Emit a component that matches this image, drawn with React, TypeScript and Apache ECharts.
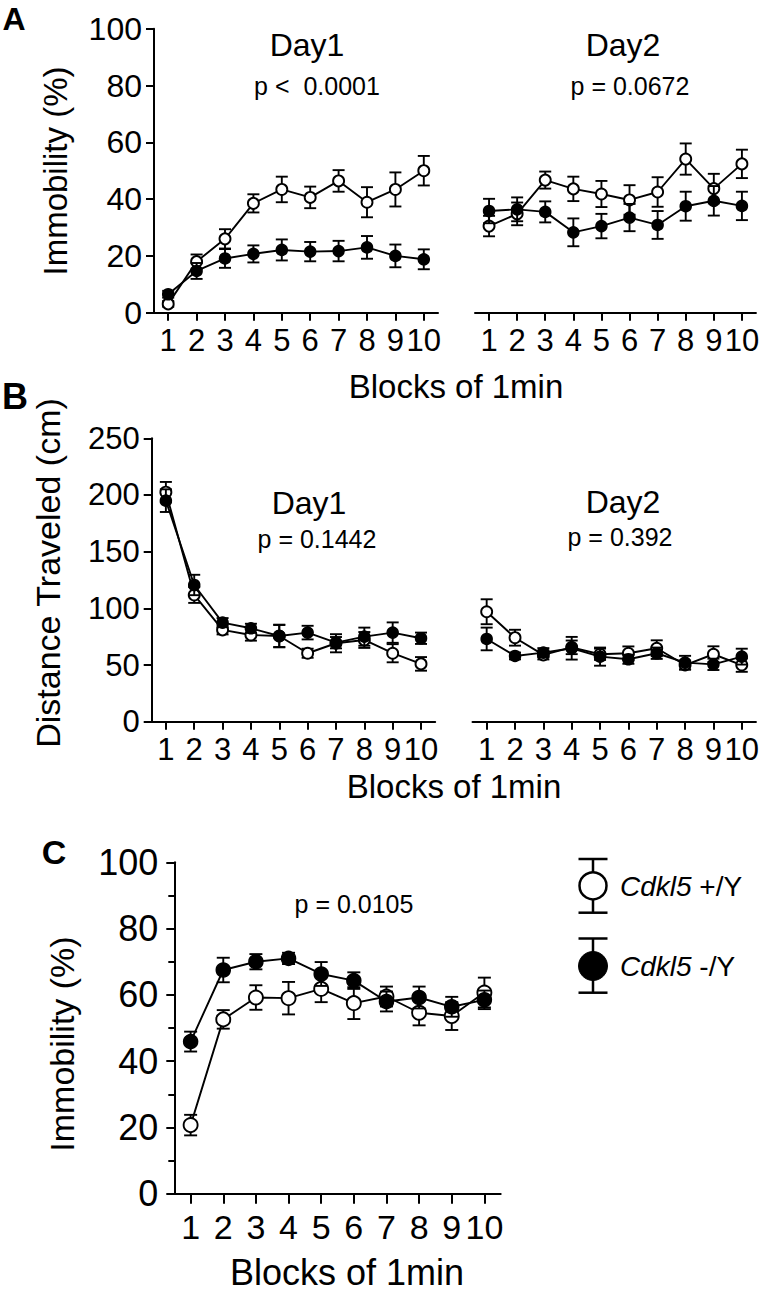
import React, { useEffect, useRef } from "react";
import * as echarts from "echarts";

const blocks = ["1", "2", "3", "4", "5", "6", "7", "8", "9", "10"];

// Panel A – Immobility (%)
const aDay1WT = [3.1, 18, 26, 38.5, 43.4, 40.6, 46.4, 38.9, 43.4, 50];
const aDay1WTErr = [1, 2.5, 3.4, 3.2, 4.5, 3.8, 3.8, 5.3, 6, 5.2];
const aDay1KO = [6.5, 14.7, 19.1, 20.7, 22.1, 21.5, 21.7, 23, 20, 18.8];
const aDay1KOErr = [1.2, 2.8, 3.3, 3, 3.7, 3.4, 3.6, 4, 4, 3.5];
const aDay2WT = [30.5, 34.8, 46.7, 43.6, 41.8, 39.7, 42.5, 54.1, 43.7, 52.4];
const aDay2WTErr = [3.6, 4, 3, 4.3, 4.6, 5.2, 5.2, 5.5, 5.2, 5];
const aDay2KO = [35.8, 36.4, 35.5, 28.3, 30.5, 33.5, 30.9, 37.5, 39.4, 37.6];
const aDay2KOErr = [4.3, 4.2, 3.7, 4.9, 4.3, 4.8, 4.9, 5.1, 5.2, 5];

// Panel B – Distance Traveled (cm)
const bDay1WT = [202.5, 111.8, 81, 76.5, 75.6, 60.4, 69.2, 72.1, 60.4, 51];
const bDay1WTErr = [9, 7, 4, 5, 10, 4, 8, 7, 8, 6];
const bDay1KO = [195, 120.6, 87.4, 82.4, 75.6, 78.6, 69.7, 75, 78.6, 73.6];
const bDay1KOErr = [10, 9, 4, 4, 9.7, 6, 5, 8, 9, 5];
const bDay2WT = [97, 74.1, 58.9, 65.6, 59.5, 60.4, 64.8, 50, 59.5, 50];
const bDay2WTErr = [11, 7, 4, 6, 5, 6, 7, 4, 7, 6];
const bDay2KO = [73, 58, 60.9, 64.8, 57.4, 55.1, 60.4, 52.1, 50.6, 57.4];
const bDay2KOErr = [10, 3, 4, 10, 8, 4, 5, 6, 5, 7];

// Panel C – Immobility (%)
const cWT = [20.7, 52.6, 59.2, 59, 61.8, 57.5, 59.5, 54.6, 53.6, 60.7];
const cWTErr = [3.1, 2.8, 3.7, 4.9, 4, 4.8, 3, 3.8, 4.2, 4.5];
const cKO = [45.9, 67.5, 70, 71, 66.3, 64.3, 58, 59.2, 56.4, 58.5];
const cKOErr = [3, 3.7, 2.3, 1.7, 3.6, 2.5, 3, 3.3, 3, 2.8];

const FONT = "Liberation Sans, Arial, Helvetica, sans-serif";

function errSeries(idx: number, means: number[], errs: number[], cap: number, z: number) {
  return {
    type: "custom",
    xAxisIndex: idx,
    yAxisIndex: idx,
    z,
    silent: true,
    data: means.map((m, i) => [i, m, errs[i]]),
    renderItem: (_p: any, api: any) => {
      const x = api.value(0);
      const y = api.value(1);
      const e = api.value(2);
      const c = api.coord([x, y]);
      const hi = api.coord([x, y + e]);
      const lo = api.coord([x, y - e]);
      const st = { stroke: "#000", lineWidth: 1.9 };
      return {
        type: "group",
        children: [
          { type: "line", shape: { x1: c[0], y1: hi[1], x2: c[0], y2: lo[1] }, style: st },
          { type: "line", shape: { x1: c[0] - cap, y1: hi[1], x2: c[0] + cap, y2: hi[1] }, style: st },
          { type: "line", shape: { x1: c[0] - cap, y1: lo[1], x2: c[0] + cap, y2: lo[1] }, style: st },
        ],
      };
    },
  };
}

function lineSeries(idx: number, means: number[], filled: boolean, size: number, z: number) {
  return {
    type: "line",
    xAxisIndex: idx,
    yAxisIndex: idx,
    z,
    data: means,
    symbol: "circle",
    symbolSize: size,
    lineStyle: { color: "#000", width: 1.9 },
    itemStyle: filled
      ? { color: "#000", borderColor: "#000", borderWidth: 1.5 }
      : { color: "#fff", borderColor: "#000", borderWidth: 1.9 },
  };
}

function xAxis(idx: number, fontSize: number, tickLen: number, margin: number) {
  return {
    type: "category",
    gridIndex: idx,
    data: blocks,
    boundaryGap: true,
    axisLine: { show: true, lineStyle: { color: "#000", width: 2 } },
    axisTick: { show: true, alignWithLabel: true, length: tickLen, lineStyle: { color: "#000", width: 2 } },
    axisLabel: { color: "#000", fontSize, fontFamily: FONT, margin, interval: 0 },
    splitLine: { show: false },
  };
}

function yAxis(idx: number, max: number, interval: number, show: boolean, fontSize: number, margin: number, minor: boolean) {
  return {
    type: "value",
    gridIndex: idx,
    min: 0,
    max,
    interval,
    show,
    axisLine: { show: true, lineStyle: { color: "#000", width: 2 } },
    axisTick: { show: true, length: 8, lineStyle: { color: "#000", width: 2 } },
    minorTick: { show: minor, splitNumber: 2, length: 6, lineStyle: { color: "#000", width: 2 } },
    axisLabel: { color: "#000", fontSize, fontFamily: FONT, margin },
    splitLine: { show: false },
    minorSplitLine: { show: false },
  };
}

function txt(x: number, y: number, text: string, fontSize: number, extra: any = {}) {
  return {
    type: "text",
    x,
    y,
    style: {
      text,
      fontSize,
      fontFamily: FONT,
      fill: "#000",
      align: "center",
      verticalAlign: "middle",
      ...extra,
    },
  };
}

export default function App() {
  const ref = useRef<HTMLDivElement>(null);
  useEffect(() => {
    if (!ref.current) return;
    const chart = echarts.init(ref.current, undefined, { renderer: "svg" });
    const capAB = 6;
    const capC = 6.5;
    const option: any = {
      animation: false,
      backgroundColor: "#fff",
      grid: [
        { left: 154, top: 28.7, width: 284, height: 284 },
        { left: 475, top: 28.7, width: 284, height: 284 },
        { left: 151.7, top: 438.3, width: 283.5, height: 283.4 },
        { left: 472.5, top: 438.3, width: 283.5, height: 283.4 },
        { left: 174.3, top: 862.3, width: 326.4, height: 331.4 },
      ],
      xAxis: [
        xAxis(0, 31, 8, 12),
        xAxis(1, 31, 8, 12),
        xAxis(2, 31, 8, 12),
        xAxis(3, 31, 8, 12),
        xAxis(4, 34, 10, 16),
      ],
      yAxis: [
        yAxis(0, 100, 20, true, 32, 12, false),
        yAxis(1, 100, 20, false, 32, 12, false),
        yAxis(2, 250, 50, true, 31, 12, false),
        yAxis(3, 250, 50, false, 31, 12, false),
        yAxis(4, 100, 20, true, 36, 16, true),
      ],
      series: [
        errSeries(0, aDay1WT, aDay1WTErr, capAB, 2),
        lineSeries(0, aDay1WT, false, 11, 3),
        errSeries(0, aDay1KO, aDay1KOErr, capAB, 4),
        lineSeries(0, aDay1KO, true, 11, 5),
        errSeries(1, aDay2WT, aDay2WTErr, capAB, 2),
        lineSeries(1, aDay2WT, false, 11, 3),
        errSeries(1, aDay2KO, aDay2KOErr, capAB, 4),
        lineSeries(1, aDay2KO, true, 11, 5),
        errSeries(2, bDay1WT, bDay1WTErr, capAB, 2),
        lineSeries(2, bDay1WT, false, 11, 3),
        errSeries(2, bDay1KO, bDay1KOErr, capAB, 4),
        lineSeries(2, bDay1KO, true, 11, 5),
        errSeries(3, bDay2WT, bDay2WTErr, capAB, 2),
        lineSeries(3, bDay2WT, false, 11, 3),
        errSeries(3, bDay2KO, bDay2KOErr, capAB, 4),
        lineSeries(3, bDay2KO, true, 11, 5),
        errSeries(4, cWT, cWTErr, capC, 2),
        lineSeries(4, cWT, false, 14, 3),
        errSeries(4, cKO, cKOErr, capC, 4),
        lineSeries(4, cKO, true, 14, 5),
      ],
      graphic: [
        txt(14, 19, "A", 32, { fontWeight: "bold" }),
        txt(15, 396, "B", 36, { fontWeight: "bold" }),
        txt(54, 852, "C", 34, { fontWeight: "bold" }),
        { ...txt(55, 171, "Immobility (%)", 33), rotation: Math.PI / 2 },
        { ...txt(48, 573, "Distance Traveled (cm)", 34), rotation: Math.PI / 2 },
        { ...txt(62, 1044, "Immobility (%)", 34), rotation: Math.PI / 2 },
        txt(307, 45, "Day1", 32),
        txt(317, 86, "p <  0.0001", 25),
        txt(623, 45, "Day2", 32),
        txt(630, 86, "p = 0.0672", 25),
        txt(309, 503, "Day1", 32),
        txt(317, 539, "p = 0.1442", 25),
        txt(623, 502, "Day2", 32),
        txt(620, 537, "p = 0.392", 25),
        txt(354, 904, "p = 0.0105", 25),
        txt(456, 386, "Blocks of 1min", 33),
        txt(454, 786, "Blocks of 1min", 33),
        txt(347, 1272, "Blocks of 1min", 36),
        // legend
        { type: "line", shape: { x1: 593, y1: 859, x2: 593, y2: 912.7 }, style: { stroke: "#000", lineWidth: 2.5 } },
        { type: "line", shape: { x1: 578.5, y1: 859, x2: 607.5, y2: 859 }, style: { stroke: "#000", lineWidth: 2.5 } },
        { type: "line", shape: { x1: 578.5, y1: 912.7, x2: 607.5, y2: 912.7 }, style: { stroke: "#000", lineWidth: 2.5 } },
        { type: "circle", shape: { cx: 593, cy: 885.8, r: 13.5 }, style: { fill: "#fff", stroke: "#000", lineWidth: 2.5 } },
        { type: "line", shape: { x1: 593, y1: 938.5, x2: 593, y2: 992.7 }, style: { stroke: "#000", lineWidth: 2.5 } },
        { type: "line", shape: { x1: 578.5, y1: 938.5, x2: 607.5, y2: 938.5 }, style: { stroke: "#000", lineWidth: 2.5 } },
        { type: "line", shape: { x1: 578.5, y1: 992.7, x2: 607.5, y2: 992.7 }, style: { stroke: "#000", lineWidth: 2.5 } },
        { type: "circle", shape: { cx: 593, cy: 966, r: 14.5 }, style: { fill: "#000", stroke: "#000", lineWidth: 1 } },
        {
          type: "text",
          x: 620,
          y: 886,
          style: {
            text: "{i|Cdkl5} +/Y",
            fontSize: 28,
            fontFamily: FONT,
            fill: "#000",
            align: "left",
            verticalAlign: "middle",
            rich: { i: { fontStyle: "italic", fontSize: 28, fontFamily: FONT, fill: "#000" } },
          },
        },
        {
          type: "text",
          x: 620,
          y: 966,
          style: {
            text: "{i|Cdkl5} -/Y",
            fontSize: 28,
            fontFamily: FONT,
            fill: "#000",
            align: "left",
            verticalAlign: "middle",
            rich: { i: { fontStyle: "italic", fontSize: 28, fontFamily: FONT, fill: "#000" } },
          },
        },
      ],
    };
    chart.setOption(option);
    return () => chart.dispose();
  }, []);
  return (
    <div
      ref={ref}
      style={{ position: "absolute", left: 0, top: 0, width: 762, height: 1292, background: "#fff" }}
    />
  );
}
